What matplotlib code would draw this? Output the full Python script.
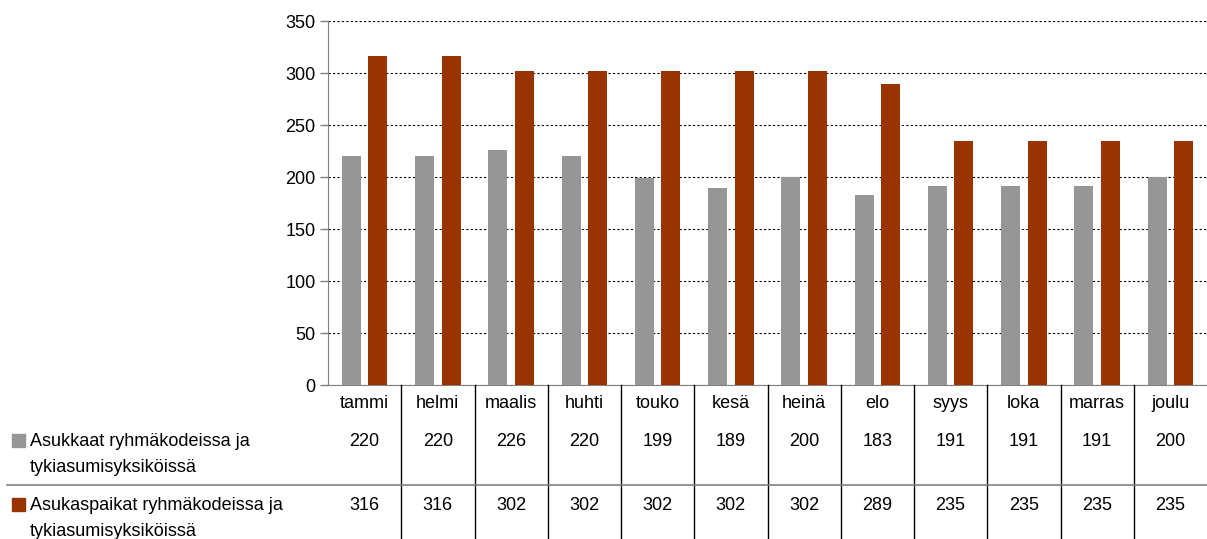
import numpy as np
import matplotlib.pyplot as plt
from matplotlib.lines import Line2D
from matplotlib.patches import Rectangle

plt.rcParams['font.family'] = ['Liberation Sans', 'DejaVu Sans']

months = ['tammi', 'helmi', 'maalis', 'huhti', 'touko', 'kesä',
          'heinä', 'elo', 'syys', 'loka', 'marras', 'joulu']
residents = [220, 220, 226, 220, 199, 189, 200, 183, 191, 191, 191, 200]
places = [316, 316, 302, 302, 302, 302, 302, 289, 235, 235, 235, 235]
series_labels = [['Asukkaat ryhmäkodeissa ja', 'tykiasumisyksiköissä'],
                 ['Asukaspaikat ryhmäkodeissa ja', 'tykiasumisyksiköissä']]
colors = ['#969696', '#993300']

W, H = 1207, 539
FS = 13
fig = plt.figure(figsize=(W / 100, H / 100), dpi=100)

# axes box in pixel units
x0, x1, y_top, y_bot = 328, 1207, 21, 385
ax = fig.add_axes([x0 / W, 1 - y_bot / H, (x1 - x0) / W, (y_bot - y_top) / H])

n = len(months)
x = np.arange(n)
bw = 0.26
ax.bar(x - 0.18, residents, bw, color=colors[0], zorder=3)
ax.bar(x + 0.18, places, bw, color=colors[1], zorder=3)

ax.set_xlim(-0.5, n - 0.5)
ax.set_ylim(0, 350)
ax.set_yticks(np.arange(0, 351, 50))
ax.yaxis.grid(True, linestyle=(0, (2, 2)), color='black', linewidth=0.8, zorder=0)
ax.set_xticks([])
ax.tick_params(axis='y', labelsize=FS, length=6, color='#808080', width=1, pad=3)
for s in ['top', 'right']:
    ax.spines[s].set_visible(False)
ax.spines['left'].set_color('#808080')
ax.spines['bottom'].set_color('#808080')


def fy(py):
    return 1 - py / H


def fx(px):
    return px / W


colw = (x1 - x0) / n
# data table
for i, m in enumerate(months):
    cx = fx(x0 + colw * (i + 0.5))
    fig.text(cx, fy(404), m, ha='center', va='center', fontsize=FS)
    fig.text(cx, fy(441), str(residents[i]), ha='center', va='center', fontsize=FS)
    fig.text(cx, fy(505), str(places[i]), ha='center', va='center', fontsize=FS)
    if i > 0:
        xb = fx(x0 + colw * i)
        fig.add_artist(Line2D([xb, xb], [fy(385), 0], color='black', linewidth=1))

fig.add_artist(Line2D([fx(7), 1], [fy(485), fy(485)], color='#808080', linewidth=1.2))

for k, (lines, ypx) in enumerate(zip(series_labels, [441, 505])):
    fig.add_artist(Rectangle((fx(12), fy(ypx + 6)), 13 / W, 13 / H,
                             color=colors[k], transform=fig.transFigure))
    for j, line in enumerate(lines):
        fig.text(fx(30), fy(ypx + 26 * j), line, ha='left', va='center', fontsize=FS)

fig.savefig('out.png', dpi=100)
